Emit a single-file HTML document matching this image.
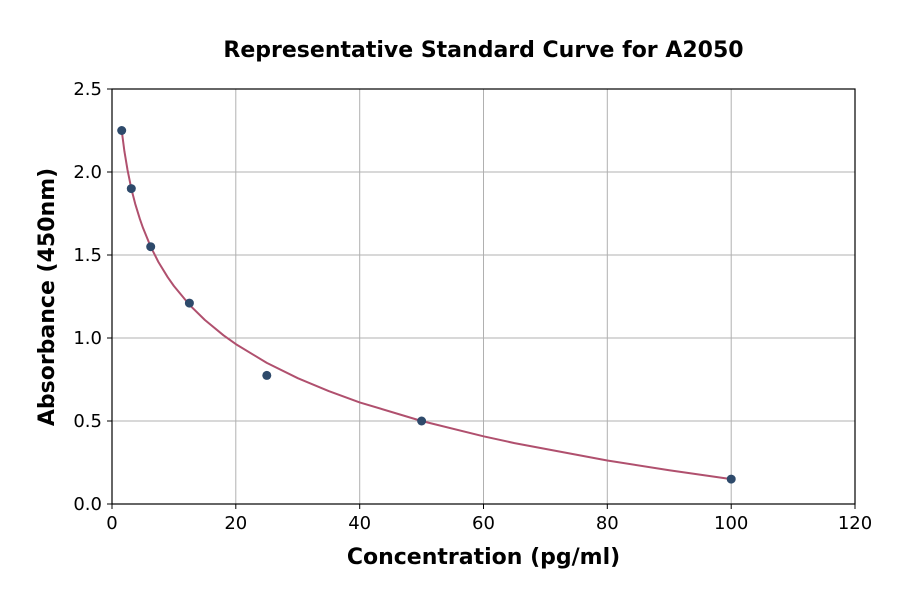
<!DOCTYPE html>
<html><head><meta charset="utf-8"><style>body{margin:0;background:#fff}</style></head><body>
<svg width="900" height="594" xmlns="http://www.w3.org/2000/svg" font-family="'DejaVu Sans', 'Liberation Sans', sans-serif">
<rect width="900" height="594" fill="#fff"/>
<g stroke="#b0b0b0" stroke-width="1">
<line x1="235.8" y1="89" x2="235.8" y2="504"/><line x1="359.7" y1="89" x2="359.7" y2="504"/>
<line x1="483.5" y1="89" x2="483.5" y2="504"/><line x1="607.3" y1="89" x2="607.3" y2="504"/>
<line x1="731.2" y1="89" x2="731.2" y2="504"/>
<line x1="112" y1="421" x2="855" y2="421"/><line x1="112" y1="338" x2="855" y2="338"/>
<line x1="112" y1="255" x2="855" y2="255"/><line x1="112" y1="172" x2="855" y2="172"/>
</g>
<path d="M121.7,130.5 L124.4,151.2 L127.5,169.8 L131.3,188.6 L135.2,203.8 L139.9,219.1 L143.0,227.9 L150.7,246.7 L158.4,262 L167.7,277.2 L173.9,286 L189.4,304.8 L204.9,320 L223.5,335.3 L235.8,344.1 L266.8,362.9 L297.8,378.2 L328.7,391.1 L359.7,402.4 L421.6,421 L483.5,436.3 L514.5,443.1 L607.3,460.5 L669.2,470.3 L731.2,479.1" fill="none" stroke="#b0506e" stroke-width="2" stroke-linejoin="round"/>
<g fill="#2e4a6b">
<circle cx="121.7" cy="130.5" r="4.5"/><circle cx="131.3" cy="188.6" r="4.5"/><circle cx="150.7" cy="246.7" r="4.5"/>
<circle cx="189.4" cy="303.1" r="4.5"/><circle cx="266.8" cy="375.4" r="4.5"/><circle cx="421.6" cy="421" r="4.5"/>
<circle cx="731.2" cy="479.1" r="4.5"/></g>
<rect x="112" y="89" width="743" height="415" fill="none" stroke="#000" stroke-width="1.2"/>
<g stroke="#000" stroke-width="1">
<line x1="112" y1="504" x2="112" y2="509"/><line x1="235.8" y1="504" x2="235.8" y2="509"/><line x1="359.7" y1="504" x2="359.7" y2="509"/><line x1="483.5" y1="504" x2="483.5" y2="509"/><line x1="607.3" y1="504" x2="607.3" y2="509"/><line x1="731.2" y1="504" x2="731.2" y2="509"/><line x1="855" y1="504" x2="855" y2="509"/>
<line x1="107" y1="504" x2="112" y2="504"/><line x1="107" y1="421" x2="112" y2="421"/><line x1="107" y1="338" x2="112" y2="338"/><line x1="107" y1="255" x2="112" y2="255"/><line x1="107" y1="172" x2="112" y2="172"/><line x1="107" y1="89" x2="112" y2="89"/>
</g>
<g font-size="18" fill="#000" text-anchor="middle">
<text x="112" y="529">0</text><text x="235.8" y="529">20</text><text x="359.7" y="529">40</text><text x="483.5" y="529">60</text><text x="607.3" y="529">80</text><text x="731.2" y="529">100</text><text x="855" y="529">120</text>
</g>
<g font-size="18" fill="#000" text-anchor="end">
<text x="102" y="510">0.0</text><text x="102" y="427">0.5</text><text x="102" y="344">1.0</text><text x="102" y="261">1.5</text><text x="102" y="178">2.0</text><text x="102" y="95">2.5</text>
</g>
<text x="483.5" y="57" font-size="22" font-weight="bold" text-anchor="middle">Representative Standard Curve for A2050</text>
<text x="483.5" y="564" font-size="22" font-weight="bold" text-anchor="middle">Concentration (pg/ml)</text>
<text transform="translate(54,297) rotate(-90)" font-size="22" font-weight="bold" text-anchor="middle">Absorbance (450nm)</text>
</svg>
</body></html>
